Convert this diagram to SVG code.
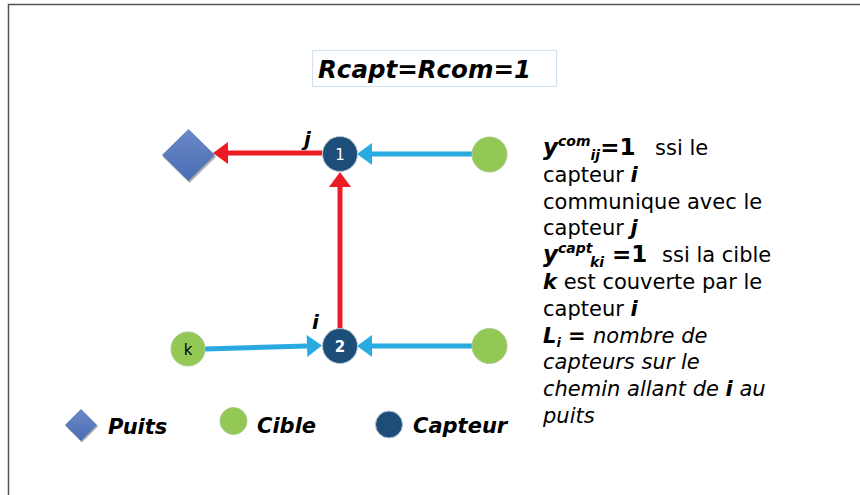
<svg xmlns="http://www.w3.org/2000/svg" width="860" height="495" viewBox="0 0 860 495">
<style>
text{font-family:"DejaVu Sans","Verdana",sans-serif;fill:#000}
.bi{font-weight:bold;font-style:italic}
.b{font-weight:bold}
.it{font-style:italic}
.body{font-size:21px}
.red{stroke:#ed1c24;stroke-width:5;fill:none}
.blue{stroke:#29abe2;stroke-width:5;fill:none}
.cap{fill:#1c4e79;stroke:#b9c6d2;stroke-width:1}
.cib{fill:#92c853;stroke:#a9c98a;stroke-width:1}
</style>
<defs>
<linearGradient id="dg" x1="0" y1="0" x2="0" y2="1">
<stop offset="0" stop-color="#6a89c9"/>
<stop offset="1" stop-color="#4a6db3"/>
</linearGradient>
<marker id="ar" markerUnits="userSpaceOnUse" markerWidth="16" markerHeight="24" refX="0" refY="12" orient="auto" overflow="visible">
<path d="M0,1 L15,12 L0,23 z" fill="#ed1c24"/>
</marker>
<marker id="ab" markerUnits="userSpaceOnUse" markerWidth="16" markerHeight="24" refX="0" refY="12" orient="auto" overflow="visible">
<path d="M0,1 L15,12 L0,23 z" fill="#29abe2"/>
</marker>
</defs>
<rect x="8.5" y="4.5" width="900" height="600" fill="#fff" stroke="#555" stroke-width="1.5"/>

<g id="title">
<rect x="312.5" y="50.5" width="244" height="36" fill="#fff" stroke="#d4e2f0" stroke-width="1.2"/>
<text x="318" y="77.5" class="bi" font-size="24.5">Rcapt=Rcom=1</text>
</g>

<g id="connectors">
<path class="red" d="M322,153 L228,153" marker-end="url(#ar)"/>
<path class="blue" d="M472,154 L372,154" marker-end="url(#ab)"/>
<path class="red" d="M340,329 L340,187" marker-end="url(#ar)"/>
<path class="blue" d="M205,349 L307,346" marker-end="url(#ab)"/>
<path class="blue" d="M472,346 L372,346" marker-end="url(#ab)"/>
</g>

<g id="puits">
<polygon points="189.5,130.5 216,157 189.5,183 163,157" fill="#3a3a3a" opacity="0.4"/>
<polygon points="188.5,129 215,155 188.5,181 162,155" fill="url(#dg)"/>
</g>

<g id="capteur1">
<circle class="cap" cx="340" cy="154" r="17.5"/>
<text x="340" y="160" font-size="15" text-anchor="middle" style="fill:#fff">1</text>
<text x="304" y="146" class="bi" font-size="20">j</text>
</g>

<g id="capteur2">
<circle class="cap" cx="340" cy="346" r="17.5"/>
<text x="340" y="352" font-size="15" class="b" text-anchor="middle" style="fill:#fff">2</text>
<text x="312" y="329" class="bi" font-size="20">i</text>
</g>

<g id="cible1">
<circle class="cib" cx="489.5" cy="154.5" r="17.5"/>
</g>

<g id="cible2">
<circle class="cib" cx="489.5" cy="346" r="17.5"/>
</g>

<g id="cibleK">
<circle class="cib" cx="188" cy="349" r="17"/>
<text x="188" y="355" font-size="15" text-anchor="middle">k</text>
</g>

<g id="explication" class="body">
<text x="543" y="155"><tspan class="bi" font-size="23">y</tspan><tspan class="bi" font-size="14" dy="-9">com</tspan><tspan class="bi" font-size="14" dy="14">ij</tspan><tspan class="b" font-size="23" dy="-5">=1</tspan><tspan x="655">ssi le</tspan></text>
<text x="543" y="182">capteur <tspan class="bi">i</tspan></text>
<text x="543" y="209">communique avec le</text>
<text x="543" y="235">capteur <tspan class="bi">j</tspan></text>
<text x="543" y="262"><tspan class="bi" font-size="23">y</tspan><tspan class="bi" font-size="14" dy="-9">capt</tspan><tspan class="bi" font-size="14" dy="14" x="590">ki</tspan><tspan class="b" font-size="23" dy="-5" x="612">=1</tspan><tspan x="662">ssi la cible</tspan></text>
<text x="543" y="289"><tspan class="bi">k</tspan> est couverte par le</text>
<text x="543" y="316">capteur <tspan class="bi">i</tspan></text>
<text x="543" y="343"><tspan class="bi">L</tspan><tspan class="bi" font-size="13" dy="4">i</tspan><tspan class="b" dy="-4" x="568">=</tspan><tspan class="it" x="593">nombre de</tspan></text>
<text x="543" y="369" class="it">capteurs sur le</text>
<text x="543" y="396" class="it">chemin allant de <tspan class="bi">i</tspan> au</text>
<text x="543" y="423" class="it">puits</text>
</g>

<g id="legende">
<g id="leg-puits">
<polygon points="82,410.5 98,426.5 82,442.5 66,426.5" fill="#3a3a3a" opacity="0.4"/>
<polygon points="81,409 97,425 81,441 65,425" fill="url(#dg)"/>
<text x="108" y="434" class="bi" font-size="21">Puits</text>
</g>
<g id="leg-cible">
<circle class="cib" cx="233.5" cy="421" r="13.5"/>
<text x="257" y="433" class="bi" font-size="21">Cible</text>
</g>
<g id="leg-capteur">
<circle class="cap" cx="389" cy="424.5" r="13.5"/>
<text x="413" y="433" class="bi" font-size="21">Capteur</text>
</g>
</g>
</svg>
